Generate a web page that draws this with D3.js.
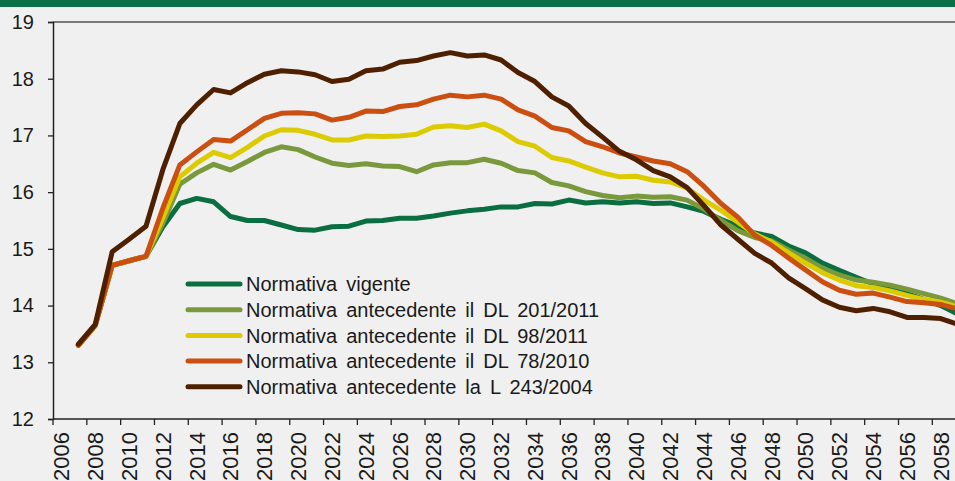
<!DOCTYPE html>
<html>
<head>
<meta charset="utf-8">
<script src="https://cdn.jsdelivr.net/npm/d3@7"></script>
<style>
  body { margin: 0; background: #f0f0f0; }
  svg { display: block; font-family: "Liberation Sans", Arial, sans-serif; }
</style>
</head>
<body>
<div id="chart"></div>
<script>
const width = 955, height = 481;

// categories on the x axis (one per year), data start in 2007
const years = d3.range(2006, 2060);
const dataYears = d3.range(2007, 2060);
const yTicks = [12, 13, 14, 15, 16, 17, 18, 19];

const seriesNames = [
  "Normativa vigente",
  "Normativa antecedente il DL 201/2011",
  "Normativa antecedente il DL 98/2011",
  "Normativa antecedente il DL 78/2010",
  "Normativa antecedente la L 243/2004"
];
const seriesColors = ["#0a6e40", "#7a983c", "#dccb00", "#cc4f12", "#4f2000"];

const vigente = [13.30, 13.65, 14.71, 14.79, 14.87,
  15.39, 15.80, 15.89, 15.83, 15.57, 15.50, 15.50, 15.42, 15.34, 15.33, 15.39,
  15.40, 15.49, 15.50, 15.54, 15.54, 15.58, 15.63, 15.67, 15.70, 15.74, 15.74, 15.80, 15.79, 15.86, 15.81, 15.83, 15.81,
  15.83, 15.80, 15.81, 15.74, 15.66, 15.52, 15.40, 15.28,
  15.22, 15.05, 14.93, 14.75, 14.62, 14.50, 14.38, 14.30, 14.21, 14.11, 14.00, 13.85];
const dl201 = [13.30, 13.65, 14.71, 14.79, 14.87,
  15.45, 16.14, 16.34, 16.49, 16.39, 16.54, 16.70, 16.80, 16.75, 16.62, 16.51,
  16.47, 16.50, 16.46, 16.45, 16.36, 16.48, 16.52, 16.52, 16.58, 16.51, 16.38, 16.34, 16.17, 16.11, 16.01, 15.94, 15.90,
  15.93, 15.91, 15.92, 15.86, 15.70, 15.50, 15.32, 15.20,
  15.14, 14.98, 14.83, 14.66, 14.54, 14.45, 14.41, 14.36, 14.29, 14.21, 14.13, 14.03];
const dl98 = [13.30, 13.65, 14.71, 14.79, 14.87,
  15.55, 16.27, 16.51, 16.70, 16.61, 16.79, 16.99, 17.10, 17.09, 17.02, 16.92,
  16.92, 16.99, 16.98, 16.99, 17.02, 17.15, 17.17, 17.14, 17.20, 17.08, 16.89, 16.81, 16.61, 16.55, 16.44, 16.34, 16.27,
  16.28, 16.21, 16.18, 16.07, 15.86, 15.68, 15.47, 15.26,
  15.12, 14.93, 14.75, 14.58, 14.45, 14.35, 14.32, 14.26, 14.18, 14.11, 14.06, 13.98];
const dl78 = [13.30, 13.65, 14.71, 14.79, 14.87,
  15.72, 16.48, 16.71, 16.93, 16.90, 17.10, 17.30, 17.39, 17.40, 17.38, 17.27,
  17.32, 17.43, 17.42, 17.51, 17.54, 17.64, 17.71, 17.68, 17.71, 17.64, 17.45, 17.34, 17.14, 17.08, 16.89, 16.80, 16.69,
  16.62, 16.55, 16.50, 16.36, 16.10, 15.80, 15.56, 15.24,
  15.06, 14.84, 14.63, 14.42, 14.27, 14.20, 14.22, 14.15, 14.07, 14.05, 14.02, 13.94];
const l243 = [13.32, 13.67, 14.95, 15.17, 15.40,
  16.40, 17.21, 17.54, 17.81, 17.75, 17.93, 18.08, 18.14, 18.12, 18.07, 17.95,
  17.99, 18.14, 18.17, 18.29, 18.32, 18.40, 18.46, 18.40, 18.42, 18.33, 18.11, 17.95, 17.68, 17.52, 17.21, 16.97, 16.72,
  16.57, 16.38, 16.27, 16.08, 15.76, 15.42, 15.17, 14.92,
  14.75, 14.49, 14.30, 14.10, 13.97, 13.91, 13.95, 13.89, 13.79, 13.79, 13.77, 13.67];

const allSeries = [vigente, dl201, dl98, dl78, l243];

const margin = {top: 22, left: 53, bottom: 62};
const yearStep = 16.91;

const svg = d3.select("#chart")
  .append("svg")
  .attr("width", width)
  .attr("height", height);

// green band on top
svg.append("rect")
  .attr("x", 0).attr("y", 0)
  .attr("width", width).attr("height", 7)
  .attr("fill", "#0a7047");

const x = d3.scaleBand()
  .domain(years)
  .range([margin.left, margin.left + years.length * yearStep])
  .padding(0);

const y = d3.scaleLinear()
  .domain([12, 19])
  .range([height - margin.bottom, margin.top]);

// top border of the plot area
svg.append("line")
  .attr("x1", margin.left).attr("x2", width)
  .attr("y1", y(19)).attr("y2", y(19))
  .attr("stroke", "#555").attr("stroke-width", 1.3);

// y axis
const yAxis = svg.append("g")
  .attr("transform", `translate(${margin.left},0)`)
  .call(d3.axisLeft(y).tickValues(yTicks).tickSize(5).tickPadding(14).tickFormat(d3.format("d")));
yAxis.select(".domain").attr("stroke", "#222").attr("stroke-width", 1.5);
yAxis.selectAll(".tick line").attr("stroke", "#222").attr("stroke-width", 1.3);
yAxis.selectAll("text").attr("font-size", 20).attr("fill", "#1a1a1a").attr("font-family", "Liberation Sans, Arial, sans-serif");

// x axis: ticks on the category boundaries every 2 years, labels centred on the category
const xg = svg.append("g");
xg.append("line")
  .attr("x1", margin.left).attr("x2", width)
  .attr("y1", y(12)).attr("y2", y(12))
  .attr("stroke", "#222").attr("stroke-width", 1.5);
const labelYears = years.filter(d => d % 2 === 0);
xg.selectAll(".xt")
  .data(labelYears)
  .join("line")
  .attr("x1", d => x(d)).attr("x2", d => x(d))
  .attr("y1", y(12)).attr("y2", y(12) + 6)
  .attr("stroke", "#222").attr("stroke-width", 1.3);
xg.selectAll(".xl")
  .data(labelYears)
  .join("text")
  .attr("transform", d => `translate(${x(d) + x.bandwidth() / 2},${y(12) + 13}) rotate(-90)`)
  .attr("text-anchor", "end")
  .attr("dy", "0.36em")
  .attr("font-size", 22)
  .attr("fill", "#1a1a1a")
  .text(d => d);

// lines
const line = d3.line()
  .x((d, i) => x(dataYears[i]) + x.bandwidth() / 2)
  .y(d => y(d));

svg.append("g")
  .selectAll("path")
  .data(allSeries)
  .join("path")
  .attr("fill", "none")
  .attr("stroke", (d, i) => seriesColors[i])
  .attr("stroke-width", 5)
  .attr("stroke-linejoin", "round")
  .attr("stroke-linecap", "round")
  .attr("d", line);

// legend
const legend = svg.append("g").attr("transform", "translate(188,284)");
const rows = legend.selectAll("g")
  .data(seriesNames)
  .join("g")
  .attr("transform", (d, i) => `translate(0,${i * 25.7})`);
rows.append("line")
  .attr("x1", 0).attr("x2", 52)
  .attr("stroke", (d, i) => seriesColors[i])
  .attr("stroke-width", 5)
  .attr("stroke-linecap", "round");
rows.append("text")
  .attr("x", 58)
  .attr("dy", "0.36em")
  .attr("font-size", 20)
  .attr("word-spacing", "3.5px")
  .attr("fill", "#1a1a1a")
  .text(d => d);
</script>
</body>
</html>
